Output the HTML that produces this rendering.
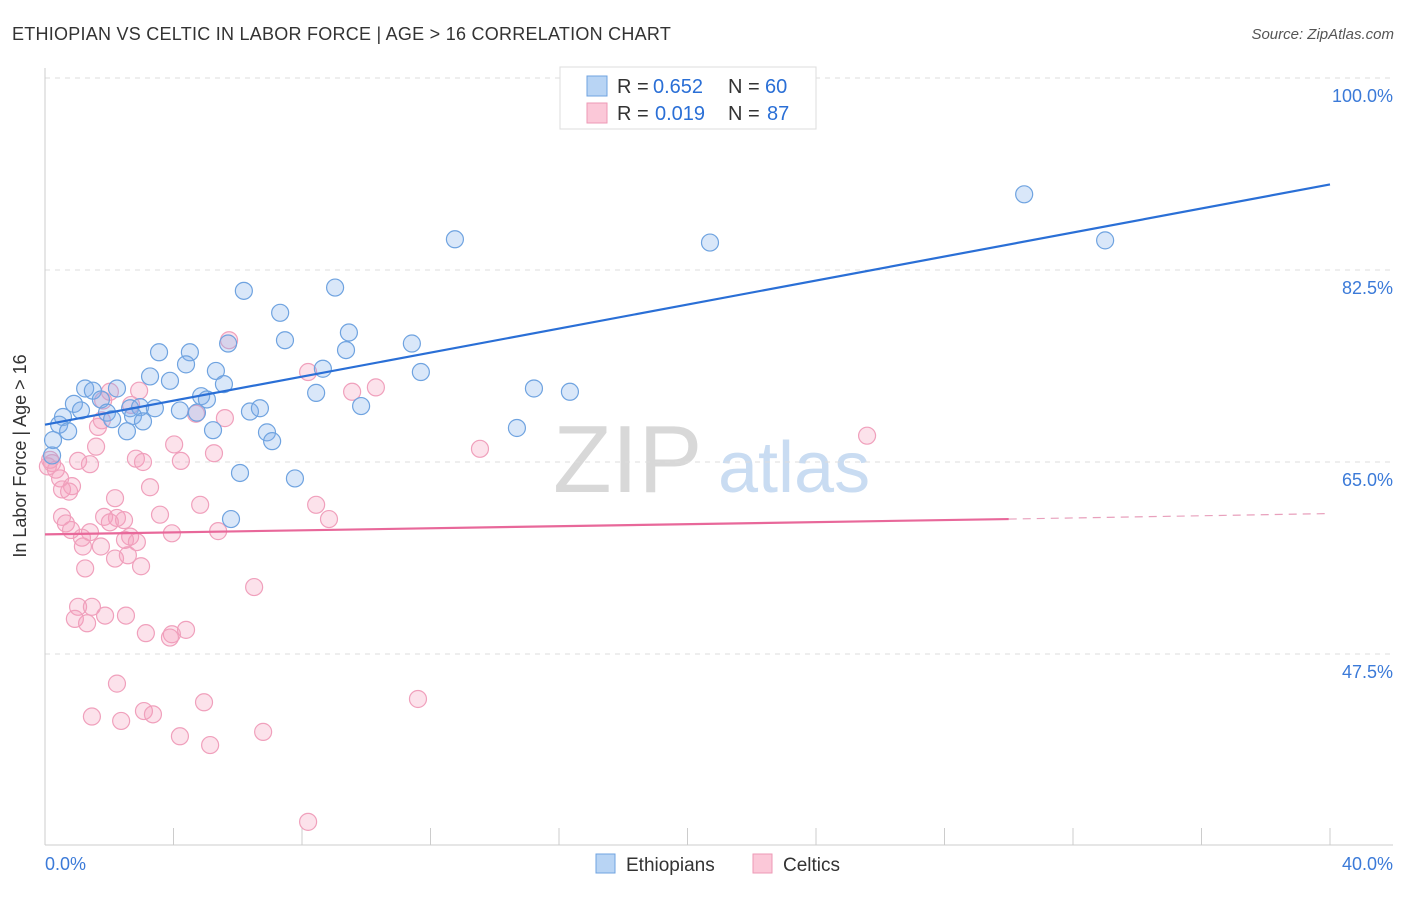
<!DOCTYPE html>
<html><head><meta charset="utf-8"><style>
body{margin:0;background:#fff;font-family:"Liberation Sans",sans-serif}
svg text{font-family:"Liberation Sans",sans-serif}
</style></head><body>
<svg id="chart" width="1406" height="892" viewBox="0 0 1406 892" xmlns="http://www.w3.org/2000/svg">
<text x="12" y="40" font-size="18" fill="#333" letter-spacing="0.25">ETHIOPIAN VS CELTIC IN LABOR FORCE | AGE &gt; 16 CORRELATION CHART</text>
<text x="1394" y="39" font-size="15" fill="#555" text-anchor="end" font-style="italic">Source: ZipAtlas.com</text>
<g>
<text x="553" y="492" font-size="96" fill="#d8d8d8" font-family="Liberation Serif">ZIP</text>
<text x="718" y="492" font-size="72" fill="#c9dcf2">atlas</text>
</g>
<g id="grid"></g>
<g id="axes"></g>
<g id="pts"></g>
<g id="trend"></g>
<text x="26" y="456" font-size="18" fill="#333" text-anchor="middle" transform="rotate(-90 26 456)">In Labor Force | Age &gt; 16</text>
<g>
<rect x="560" y="67" width="256" height="62" fill="#fff" stroke="#ddd"/>
<rect x="587" y="76" width="20" height="20" fill="#b8d4f4" stroke="#6fa3e0"/>
<text x="617" y="93" font-size="20" fill="#333">R =</text>
<text x="653" y="93" font-size="20" fill="#2a6fd6">0.652</text>
<text x="728" y="93" font-size="20" fill="#333">N =</text>
<text x="765" y="93" font-size="20" fill="#2a6fd6">60</text>
<rect x="587" y="103" width="20" height="20" fill="#fbc8d8" stroke="#ee99b6"/>
<text x="617" y="120" font-size="20" fill="#333">R =</text>
<text x="655" y="120" font-size="20" fill="#2a6fd6">0.019</text>
<text x="728" y="120" font-size="20" fill="#333">N =</text>
<text x="767" y="120" font-size="20" fill="#2a6fd6">87</text>
</g>
<g>
<rect x="596" y="854" width="19" height="19" fill="#b8d4f4" stroke="#6fa3e0"/>
<text x="626" y="871" font-size="19" fill="#333">Ethiopians</text>
<rect x="753" y="854" width="19" height="19" fill="#fbc8d8" stroke="#ee99b6"/>
<text x="783" y="871" font-size="19" fill="#333">Celtics</text>
</g>
</svg>
<script>
const yTicks=[100,82.5,65,47.5];
const yTickLabels=["100.0%","82.5%","65.0%","47.5%"];
const xTickVals=[0,4,8,12,16,20,24,28,32,36,40];
const xEndLabels=["0.0%","40.0%"];
const blueX=[30.48,12.76,20.70,33.0,6.19,9.03,7.32,9.46,5.70,7.47,3.55,4.51,9.37,11.42,4.39,5.32,8.65,11.70,3.27,3.89,5.57,15.22,16.34,1.25,1.49,2.24,8.44,4.86,5.04,1.74,0.90,2.65,2.96,3.42,4.20,4.73,6.38,6.69,9.84,0.56,1.12,1.93,2.74,2.09,3.05,0.44,0.72,2.55,5.23,6.91,14.69,7.07,0.25,6.07,7.78,5.79,0.22];
const blueY=[89.4,85.3,85.0,85.2,80.6,80.9,78.6,76.8,75.8,76.1,75.0,75.0,75.2,75.8,73.9,73.3,73.5,73.2,72.8,72.4,72.1,71.7,71.4,71.7,71.5,71.7,71.3,71.0,70.7,70.7,70.3,69.9,70.0,69.9,69.7,69.5,69.6,69.9,70.1,69.1,69.7,69.5,69.2,68.9,68.7,68.4,67.8,67.8,67.9,67.7,68.1,66.9,67.0,64.0,63.5,59.8,65.6];
const pinkX=[5.73,8.19,9.56,10.30,2.93,2.02,1.81,2.68,4.70,5.60,1.65,1.77,25.59,13.54,4.02,1.59,5.26,2.83,3.05,1.03,1.40,4.23,0.22,0.34,0.47,3.27,0.84,0.53,0.75,2.18,4.83,8.44,3.58,0.53,1.84,2.24,2.46,8.84,0.65,2.02,0.81,5.39,3.95,1.40,1.15,2.65,2.49,2.86,1.18,1.74,2.18,2.58,2.99,1.25,6.51,1.03,1.46,1.87,2.52,0.93,1.31,3.14,4.39,3.95,3.89,2.24,4.95,11.61,1.46,2.37,3.08,3.36,4.20,5.14,6.79,8.19,0.09,0.16];
const pinkY=[76.1,73.2,71.4,71.8,71.5,71.4,70.6,70.2,69.4,69.0,68.2,68.8,67.4,66.2,66.6,66.4,65.8,65.3,65.0,65.1,64.8,65.1,64.9,64.3,63.5,62.7,62.8,62.5,62.3,61.7,61.1,61.1,60.2,60.0,60.0,59.9,59.7,59.8,59.4,59.5,58.8,58.7,58.5,58.6,58.1,58.2,57.9,57.7,57.3,57.3,56.2,56.5,55.5,55.3,53.6,51.8,51.8,51.0,51.0,50.7,50.3,49.4,49.7,49.3,49.0,44.8,43.1,43.4,41.8,41.4,42.3,42.0,40.0,39.2,40.4,32.2,64.6,65.2];
const blueTrend=[68.4,90.3];
const pinkTrend=[58.4,59.8,60.3];
const pinkTrendSolidEnd=30.0;
const NS="http://www.w3.org/2000/svg";
const X=v=>45+v/40*1285, Y=v=>78+(100-v)/17.5*192;
function mk(t,a,p){const e=document.createElementNS(NS,t);for(const k in a)e.setAttribute(k,a[k]);p.appendChild(e);return e;}
const grid=document.getElementById('grid'),axes=document.getElementById('axes'),pts=document.getElementById('pts'),trend=document.getElementById('trend');
yTicks.forEach((v,i)=>{
 const l=mk('line',{x1:45,x2:1393,y1:Y(v),y2:Y(v),stroke:'#ddd','stroke-dasharray':'5,5'},grid);
 
 
 const t=mk('text',{x:1393,y:Y(v)+24,'font-size':18,fill:'#3b7ad8','text-anchor':'end'},axes);
 t.textContent=yTickLabels[i];
 
 
});
let a=mk('line',{x1:45,x2:45,y1:68,y2:845,stroke:'#ccc'},axes);


a=mk('line',{x1:45,x2:1393,y1:845,y2:845,stroke:'#ccc'},axes);


xTickVals.forEach(v=>{
 const l=mk('line',{x1:X(v),x2:X(v),y1:828,y2:845,stroke:'#ccc'},axes);
 
 
});
[[0,'start',X(0)],[40,'end',X(40)+63]].forEach((d,i)=>{
 const t=mk('text',{x:d[2],y:870,'font-size':18,fill:'#3b7ad8','text-anchor':d[1]},axes);
 t.textContent=xEndLabels[i];
 
 
});
pinkX.forEach((x,i)=>{
 const c=mk('circle',{cx:X(x),cy:Y(pinkY[i]),r:8.5,fill:'rgba(244,160,190,0.3)',stroke:'#f0a0bc','stroke-width':1.2},pts);
 
 
});
blueX.forEach((x,i)=>{
 const c=mk('circle',{cx:X(x),cy:Y(blueY[i]),r:8.5,fill:'rgba(130,175,235,0.3)',stroke:'#6fa3e0','stroke-width':1.2},pts);
 
 
});
let tl=mk('line',{x1:X(0),y1:Y(blueTrend[0]),x2:X(40),y2:Y(blueTrend[1]),stroke:'#2a6fd6','stroke-width':2.2},trend);


tl=mk('line',{x1:X(0),y1:Y(pinkTrend[0]),x2:X(pinkTrendSolidEnd),y2:Y(pinkTrend[1]),stroke:'#e8689a','stroke-width':2.2},trend);


tl=mk('line',{x1:X(pinkTrendSolidEnd),y1:Y(pinkTrend[1]),x2:X(40),y2:Y(pinkTrend[2]),stroke:'#e8a0bc','stroke-width':1.2,'stroke-dasharray':'8,6'},trend);


</script>
</body></html>
